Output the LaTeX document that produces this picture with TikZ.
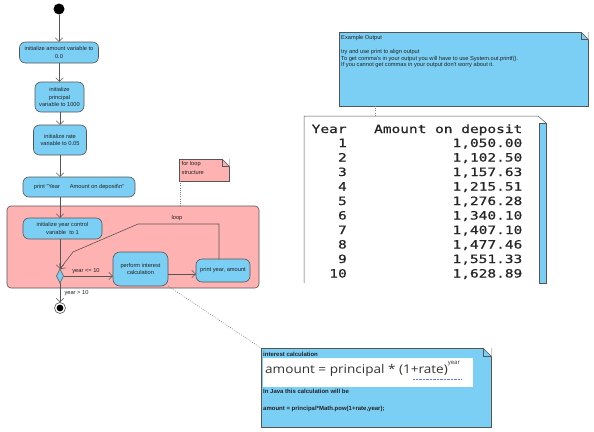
\documentclass[tikz,border=0pt]{standalone}
\usepackage{graphicx}
\usepackage{fontspec}
\setmainfont{Liberation Sans}
\newfontfamily\monof{DejaVu Sans Mono}[FakeBold=0.7]
\newfontfamily\calcf{Open Sans}
\usetikzlibrary{arrows.meta,shapes.geometric,calc}
\definecolor{ublue}{HTML}{7BCFF4}
\definecolor{upink}{HTML}{FFB2B2}
\definecolor{uline}{HTML}{555555}
\definecolor{utext}{HTML}{222222}
\definecolor{squig}{HTML}{5A7BE6}
\newcommand\myfold[2]{%
  \fill[white] ($(#1.north east)+(-#2-0.6,-0.6)$) -- ($(#1.north east)+(0.6,-0.6)$) -- ($(#1.north east)+(0.6,#2+0.6)$) -- cycle;
  \draw[foldline] ($(#1.north east)+(-#2,0)$) -- ($(#1.north east)+(0,#2)$);
  \draw[foldline] ($(#1.north east)+(-#2,0)$) -- ($(#1.north east)+(-#2,#2)$) -- ($(#1.north east)+(0,#2)$);}
\newcommand\hs[1]{\scalebox{1.27}[1]{#1}}
\begin{document}
\begin{tikzpicture}[x=1pt,y=-1pt,
  foldline/.style={draw=uline, line width=0.5pt},
  act/.style={draw=uline, fill=ublue, rounded corners=6pt, line width=0.6pt, text=utext, font=\fontsize{5.7}{7.6}\selectfont, align=center, inner sep=0pt, outer sep=0pt},
  notebox/.style={draw=uline, line width=0.5pt, inner sep=0pt, outer sep=0pt, anchor=north west},
  arr/.style={draw=uline, line width=0.6pt, -{Straight Barb[length=3.8pt,width=7.5pt]}},
  dots/.style={draw=gray, line width=0.6pt, dash pattern=on 0.8pt off 1.4pt},
  lbl/.style={text=utext, font=\fontsize{5.7}{7.6}\selectfont, inner sep=0pt},
  mono/.style={inner sep=0pt, font=\monof\fontsize{11.4}{12}\selectfont, text=black!85},
  boldlbl/.style={inner sep=0pt, anchor=west, text=utext, font=\bfseries\fontsize{6}{7}\selectfont},
]
\useasboundingbox (0,0) rectangle (594,431);
\fill[white] (0,0) rectangle (594,431);

% ---- notes ----
\node[notebox, fill=upink, minimum width=50, minimum height=22] (fl) at (179,159) {};
\myfold{fl}{7}
\node[lbl, anchor=north west, align=left, font=\fontsize{5.7}{8.7}\selectfont] (fltext) at (181.5,161) {for loop\\structure};

\node[notebox, fill=ublue, minimum width=249, minimum height=74] (ex) at (339,32) {};
\myfold{ex}{7}
\node[lbl, anchor=north west, align=left, font=\fontsize{5.7}{6.7}\selectfont] (extext) at (341,35.5) {Example Output\\[6.8pt]try and use print to align output\\To get comma's in your output you will have to use System.out.printf().\\If you cannot get commas in your output don't worry about it.};

% ---- output table ----
\node[fill=white, minimum width=242, minimum height=167, inner sep=0pt, outer sep=0pt, anchor=north west] (tab) at (304,116) {};
\draw[foldline] (tab.south west) -- (tab.north west) -- ($(tab.north east)+(-8,0)$) -- ($(tab.north east)+(0,7)$);
\node[draw=uline, line width=0.4pt, fill=ublue, minimum width=7, minimum height=160, anchor=north east, inner sep=0pt, outer sep=0pt] (strip) at ($(tab.north east)+(0,7)$) {};
\node[mono, anchor=base west] (hy) at (311.5,133) {\hs{Year}};
\node[mono, anchor=base east] (ha) at (522.5,133) {\hs{Amount on deposit}};
\node[mono, anchor=base east] (y1) at (347,147) {\hs{1}};
\node[mono, anchor=base east] (a1) at (522.5,147) {\hs{1,050.00}};
\node[mono, anchor=base east] (y2) at (347,161.5) {\hs{2}};
\node[mono, anchor=base east] (a2) at (522.5,161.5) {\hs{1,102.50}};
\node[mono, anchor=base east] (y3) at (347,176) {\hs{3}};
\node[mono, anchor=base east] (a3) at (522.5,176) {\hs{1,157.63}};
\node[mono, anchor=base east] (y4) at (347,190.5) {\hs{4}};
\node[mono, anchor=base east] (a4) at (522.5,190.5) {\hs{1,215.51}};
\node[mono, anchor=base east] (y5) at (347,205) {\hs{5}};
\node[mono, anchor=base east] (a5) at (522.5,205) {\hs{1,276.28}};
\node[mono, anchor=base east] (y6) at (347,219.5) {\hs{6}};
\node[mono, anchor=base east] (a6) at (522.5,219.5) {\hs{1,340.10}};
\node[mono, anchor=base east] (y7) at (347,234) {\hs{7}};
\node[mono, anchor=base east] (a7) at (522.5,234) {\hs{1,407.10}};
\node[mono, anchor=base east] (y8) at (347,248.5) {\hs{8}};
\node[mono, anchor=base east] (a8) at (522.5,248.5) {\hs{1,477.46}};
\node[mono, anchor=base east] (y9) at (347,263) {\hs{9}};
\node[mono, anchor=base east] (a9) at (522.5,263) {\hs{1,551.33}};
\node[mono, anchor=base east] (y10) at (347,277.5) {\hs{10}};
\node[mono, anchor=base east] (a10) at (522.5,277.5) {\hs{1,628.89}};

% ---- interest note ----
\node[notebox, fill=ublue, minimum width=230, minimum height=79] (calc) at (261,348) {};
\myfold{calc}{8}
\node[fill=white, minimum width=210, minimum height=29, inner sep=0pt, outer sep=0pt, anchor=north west] (wbox) at (263,358) {};
\node[boldlbl] (ct) at (263,354) {interest calculation};
\node[inner sep=0pt, anchor=base west, text=black!80] (formula) at (265,373) {\calcf\fontsize{12}{14}\selectfont\scalebox{1.13}[1]{amount = principal * (1+rate)}\raisebox{9pt}{\fontsize{6}{7}\selectfont year}};
\draw[squig, dash pattern=on 0.7pt off 0.7pt, line width=0.5pt] (413,379) -- (462,379);
\node[boldlbl] (cj) at (263,391) {In Java this calculation will be};
\node[boldlbl] (cf) at (263,409) {amount = principal*Math.pow(1+rate,year);};

% ---- loop region ----
\node[draw=uline, fill=upink, rounded corners=4pt, line width=0.6pt, minimum width=252, minimum height=82, inner sep=0pt, outer sep=0pt, anchor=north west] (loopreg) at (7,206) {};

% ---- dotted anchors ----
\coordinate (fd) at ($(fl.south west)+(1,0)$);
\draw[dots] (fd) -- (fd |- loopreg.north);
\coordinate (ed) at (375,0);
\draw[dots] (ed |- ex.south) -- (ed |- tab.north);

% ---- activity nodes ----
\node[circle, fill=black, minimum size=11, inner sep=0pt] (st) at (59,9) {};
\node[act, minimum width=79, minimum height=21] (n1) at (59,52.5) {initialize amount variable to\\0.0};
\node[act, minimum width=49, minimum height=30] (n2) at (59.5,97) {initialize\\principal\\variable to 1000};
\node[act, minimum width=53, minimum height=30] (n3) at (60,140) {initialize rate\\variable to 0.05};
\node[act, minimum width=112, minimum height=20] (n4) at (79,187) {print "Year\hspace{10pt}Amount on deposit\textbackslash n"};
\node[act, minimum width=79, minimum height=21] (n5) at (62.5,228.5) {initialize year control\\variable\ \ to 1};
\node[diamond, draw=uline, fill=ublue, line width=0.6pt, minimum width=7, minimum height=14, inner sep=0pt, outer sep=0pt] (dec) at (60,276) {};
\node[act, minimum width=55, minimum height=34, rounded corners=7pt] (perf) at (140.5,269) {perform interest\\calculation};
\node[act, minimum width=54, minimum height=23] (prt) at (223,270.5) {print year, amount};
\node[circle, draw=uline, fill=white, line width=0.6pt, minimum size=11, inner sep=0pt, outer sep=0pt] (fin) at (60,308) {};
\fill[black] (fin.center) circle (3.4pt);

\draw[dots] (perf.south east) -- (calc.north west);

% ---- connectors ----
\draw[arr] (st) -- (st |- n1.north);
\draw[arr] (n2.north |- n1.south) -- (n2.north);
\draw[arr] (n3.north |- n2.south) -- (n3.north);
\draw[arr] (n3.south) -- (n3.south |- n4.north);
\draw[arr] (n3.south |- n4.south) -- (n3.south |- n5.north);
\draw[arr] (dec.north |- n5.south) -- (dec.north);
\draw[arr] (dec.east) -- (dec.east -| perf.west);
\coordinate (pa) at ($(perf.east)+(0,5)$);
\draw[arr] (pa) -- (pa -| prt.west);
\coordinate (l1) at (219,224);
\coordinate (l2) at (138,224);
\coordinate (l3) at (73,252);
\draw[arr] (l1 |- prt.north) -- (l1) -- (l2) -- (l3) -- (dec.north);
\draw[arr] (dec.south) -- (fin.north);

% ---- labels ----
\node[lbl] (loopl) at (177,218) {loop};
\node[lbl] (yle) at (86,271) {year <= 10};
\node[lbl] (ygt) at (76.5,293) {year > 10};
\end{tikzpicture}
\end{document}
